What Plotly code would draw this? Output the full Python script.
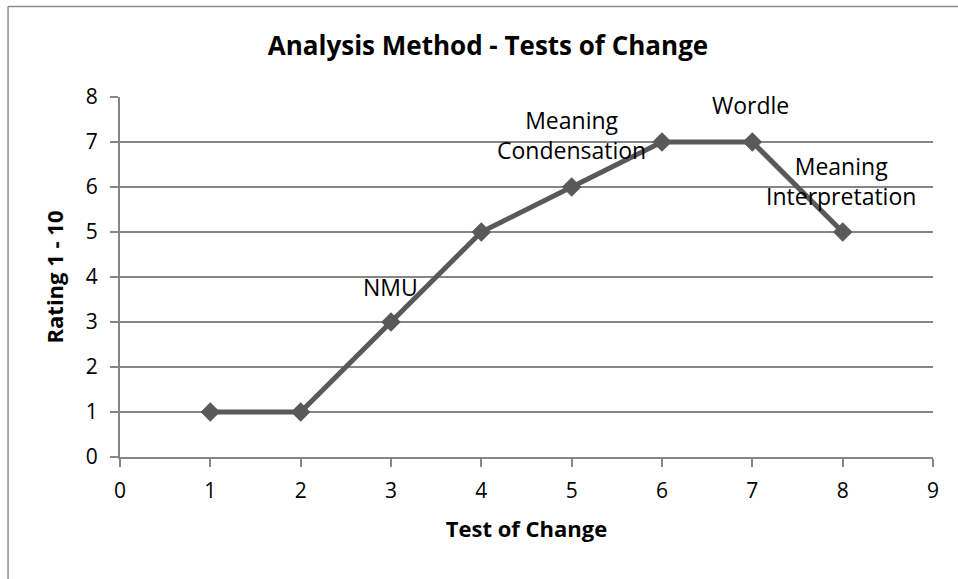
import plotly.graph_objects as go

x_vals = [1, 2, 3, 4, 5, 6, 7, 8]
ratings = [1, 1, 3, 5, 6, 7, 7, 5]
point_labels = ["", "", "NMU", "", "Meaning<br>Condensation", "", "Wordle", "Meaning<br>Interpretation"]
label_shifts = [(0, 0), (0, 0), (-1, 35), (0, 0), (0, 52), (0, 0), (-2, 37), (-2, 51)]

title = "Analysis Method - Tests of Change"
x_title = "Test of Change"
y_title = "Rating 1 - 10"

FONT = "Open Sans"
GRID = "#868686"
LINE = "#595959"

FW, FH = 958, 579
L, R, T, B = 119.5, 933, 97, 457
W, H = R - L, B - T

fig = go.Figure()
fig.add_trace(go.Scatter(
    x=x_vals, y=ratings, mode="lines+markers",
    line=dict(color=LINE, width=5),
    marker=dict(symbol="diamond", size=15, color=LINE),
    showlegend=False, hoverinfo="x+y",
))

for xv, yv, lab, (dx, dy) in zip(x_vals, ratings, point_labels, label_shifts):
    if lab:
        fig.add_annotation(x=xv, y=yv, text=lab, showarrow=False,
                           xshift=dx, yshift=dy, align="center",
                           font=dict(family=FONT, size=23, color="#000000"))

px = lambda p: (p - L) / W
py = lambda p: (B - p) / H
fig.add_shape(type="line", xref="paper", yref="paper",
              x0=px(7.5), x1=px(7.5), y0=py(6.5), y1=py(620),
              line=dict(color="#8c8c8c", width=1.5))
fig.add_shape(type="line", xref="paper", yref="paper",
              x0=px(7.5), x1=px(1000), y0=py(6.5), y1=py(6.5),
              line=dict(color="#8c8c8c", width=1.5))

fig.update_layout(
    width=FW, height=FH,
    margin=dict(l=L, r=FW - R, t=T, b=FH - B),
    paper_bgcolor="white", plot_bgcolor="white",
    font=dict(family=FONT, size=21, color="#000000"),
    title=dict(text="<b>" + title + "</b>", x=488 / FW, xanchor="center",
               y=1 - 46 / FH, yanchor="middle",
               font=dict(family=FONT, size=26, color="#000000")),
    xaxis=dict(range=[0, 9], dtick=1, tick0=0, showgrid=False, zeroline=False,
               showline=True, linecolor=GRID, linewidth=2,
               ticks="outside", ticklen=8, tickwidth=2, tickcolor=GRID,
               ticklabelstandoff=6,
               tickfont=dict(family=FONT, size=21),
               title=dict(text="<b>" + x_title + "</b>", standoff=18,
                          font=dict(family=FONT, size=22))),
    yaxis=dict(range=[0, 8], dtick=1, tick0=0, showgrid=True, gridcolor=GRID,
               gridwidth=2, zeroline=False,
               showline=True, linecolor=GRID, linewidth=2,
               ticks="outside", ticklen=8, tickwidth=2, tickcolor=GRID,
               ticklabelstandoff=8,
               tickfont=dict(family=FONT, size=21),
               title=dict(text="<b>" + y_title + "</b>", standoff=16,
                          font=dict(family=FONT, size=22))),
)

fig.write_html("out.html", config={"displayModeBar": False},
               post_script="document.body.style.margin='0px';")
